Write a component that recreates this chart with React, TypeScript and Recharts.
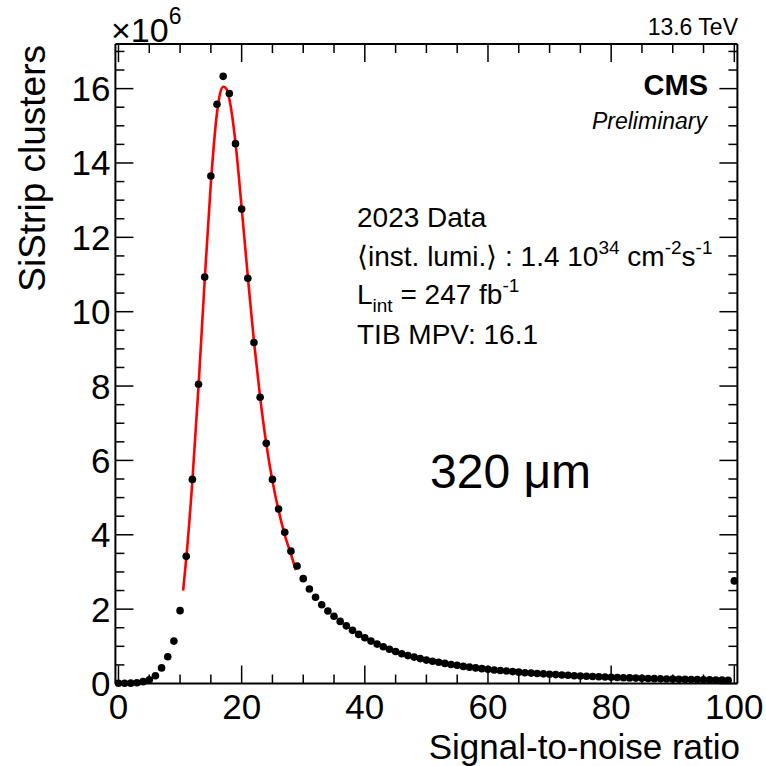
import React from 'react';
import { ComposedChart, XAxis, YAxis, Scatter, Line } from 'recharts';

// Histogram bins (signal-to-noise ratio) and cluster counts (units of 10^6)
const snrBins = [
  0, 1, 2, 3, 4, 5, 6, 7, 8, 9,
  10, 11, 12, 13, 14, 15, 16, 17, 18, 19,
  20, 21, 22, 23, 24, 25, 26, 27, 28, 29,
  30, 31, 32, 33, 34, 35, 36, 37, 38, 39,
  40, 41, 42, 43, 44, 45, 46, 47, 48, 49,
  50, 51, 52, 53, 54, 55, 56, 57, 58, 59,
  60, 61, 62, 63, 64, 65, 66, 67, 68, 69,
  70, 71, 72, 73, 74, 75, 76, 77, 78, 79,
  80, 81, 82, 83, 84, 85, 86, 87, 88, 89,
  90, 91, 92, 93, 94, 95, 96, 97, 98, 99,
  100,
];
const clusterCounts = [
  0.005, 0.005, 0.01, 0.02, 0.05, 0.1, 0.21, 0.42, 0.72, 1.14,
  1.96, 3.42, 5.49, 8.05, 10.93, 13.65, 15.58, 16.33, 15.87, 14.52,
  12.76, 10.9, 9.17, 7.7, 6.46, 5.49, 4.69, 4.07, 3.56, 3.16,
  2.82, 2.54, 2.32, 2.12, 1.95, 1.81, 1.67, 1.55, 1.43, 1.32,
  1.23, 1.14, 1.06, 0.99, 0.92, 0.86, 0.8, 0.75, 0.71, 0.67,
  0.63, 0.6, 0.57, 0.54, 0.51, 0.49, 0.46, 0.44, 0.42, 0.4,
  0.38, 0.365, 0.35, 0.335, 0.32, 0.305, 0.29, 0.28, 0.27, 0.26,
  0.25, 0.24, 0.23, 0.22, 0.21, 0.2, 0.195, 0.19, 0.18, 0.175,
  0.17, 0.16, 0.155, 0.15, 0.145, 0.14, 0.135, 0.13, 0.125, 0.12,
  0.118, 0.114, 0.11, 0.106, 0.103, 0.1, 0.097, 0.094, 0.091, 0.088,
  2.76,
];

// Fit curve
const fitX = [10.5, 11, 12, 13, 14, 15, 16, 16.5, 17, 17.5, 18, 19, 20, 21, 22, 23, 24, 25, 26, 27, 28, 28.8];
const fitY = [2.5, 3.35, 5.45, 8.0, 10.85, 13.45, 15.35, 15.87, 16.05, 16.0, 15.72, 14.55, 12.8, 10.95, 9.2, 7.7, 6.45, 5.45, 4.65, 4.0, 3.48, 3.05];

const xTickValues = [0, 5, 10, 15, 20, 25, 30, 35, 40, 45, 50, 55, 60, 65, 70, 75, 80, 85, 90, 95, 100];
const xLabelValues = [0, 20, 40, 60, 80, 100];
const yTickValues = [0, 0.5, 1, 1.5, 2, 2.5, 3, 3.5, 4, 4.5, 5, 5.5, 6, 6.5, 7, 7.5, 8, 8.5, 9, 9.5, 10, 10.5, 11, 11.5, 12, 12.5, 13, 13.5, 14, 14.5, 15, 15.5, 16, 16.5, 17];
const yLabelValues = [0, 2, 4, 6, 8, 10, 12, 14, 16];

const histData = snrBins.map((x, i) => ({ x, y: clusterCounts[i] }));
const fitData = fitX.map((x, i) => ({ x, y: fitY[i] }));

const FONT = '"Liberation Sans", Arial, Helvetica, sans-serif';
const MAJOR = 18;
const MINOR = 9;
const TW = 1.5;

const BottomTick = (p: any) => {
  const v = p.payload.value;
  const major = xLabelValues.includes(v);
  return (
    <g>
      <line x1={p.x} x2={p.x} y1={p.y} y2={p.y - (major ? MAJOR : MINOR)} stroke="#000" strokeWidth={TW} />
      {major && (
        <text x={p.x} y={p.y + 35} textAnchor="middle" fontSize={35} fontFamily={FONT} fill="#000">
          {v}
        </text>
      )}
    </g>
  );
};

const TopTick = (p: any) => {
  const v = p.payload.value;
  const major = xLabelValues.includes(v);
  return (
    <line x1={p.x} x2={p.x} y1={p.y} y2={p.y + (major ? MAJOR : MINOR)} stroke="#000" strokeWidth={TW} />
  );
};

const LeftTick = (p: any) => {
  const v = p.payload.value;
  const major = yLabelValues.includes(v);
  return (
    <g>
      <line x1={p.x} x2={p.x + (major ? MAJOR : MINOR)} y1={p.y} y2={p.y} stroke="#000" strokeWidth={TW} />
      {major && (
        <text x={p.x - 5} y={p.y + 12.5} textAnchor="end" fontSize={35} fontFamily={FONT} fill="#000">
          {v}
        </text>
      )}
    </g>
  );
};

const RightTick = (p: any) => {
  const v = p.payload.value;
  const major = yLabelValues.includes(v);
  return (
    <line x1={p.x} x2={p.x - (major ? MAJOR : MINOR)} y1={p.y} y2={p.y} stroke="#000" strokeWidth={TW} />
  );
};

const Dot = (p: any) => <circle cx={p.cx} cy={p.cy} r={3.8} fill="#000" />;

export default function App() {
  const W = 766;
  const H = 766;
  return (
    <div style={{ position: 'absolute', left: 0, top: 0, width: W, height: H, background: '#fff' }}>
      <ComposedChart
        width={W}
        height={H}
        margin={{ top: 43, right: 27.6, bottom: 81.5, left: 114.4 }}
      >
        <XAxis
          xAxisId="b"
          dataKey="x"
          type="number"
          domain={[-0.5, 100.5]}
          ticks={xTickValues}
          interval={0}
          height={1}
          tickSize={0}
          tickMargin={0}
          tickLine={false}
          axisLine={{ stroke: '#000', strokeWidth: 2 }}
          tick={(p: any) => <BottomTick {...p} />}
          orientation="bottom"
        />
        <XAxis
          xAxisId="t"
          dataKey="x"
          type="number"
          domain={[-0.5, 100.5]}
          ticks={xTickValues}
          interval={0}
          height={1}
          tickSize={0}
          tickMargin={0}
          tickLine={false}
          axisLine={{ stroke: '#000', strokeWidth: 2 }}
          tick={(p: any) => <TopTick {...p} />}
          orientation="top"
        />
        <YAxis
          yAxisId="l"
          dataKey="y"
          type="number"
          domain={[0, 17.2]}
          ticks={yTickValues}
          interval={0}
          width={1}
          tickSize={0}
          tickMargin={0}
          tickLine={false}
          axisLine={{ stroke: '#000', strokeWidth: 2 }}
          tick={(p: any) => <LeftTick {...p} />}
          orientation="left"
        />
        <YAxis
          yAxisId="r"
          dataKey="y"
          type="number"
          domain={[0, 17.2]}
          ticks={yTickValues}
          interval={0}
          width={1}
          tickSize={0}
          tickMargin={0}
          tickLine={false}
          axisLine={{ stroke: '#000', strokeWidth: 2 }}
          tick={(p: any) => <RightTick {...p} />}
          orientation="right"
        />
        <Line
          xAxisId="b"
          yAxisId="l"
          data={fitData}
          dataKey="y"
          type="monotone"
          stroke="#ff0000"
          strokeWidth={2.6}
          dot={false}
          activeDot={false}
          isAnimationActive={false}
        />
        <Scatter
          xAxisId="b"
          yAxisId="l"
          data={histData}
          dataKey="y"
          shape={(p: any) => <Dot {...p} />}
          isAnimationActive={false}
        />
        <Line
          xAxisId="t"
          yAxisId="r"
          data={fitData}
          dataKey="y"
          stroke="none"
          dot={false}
          activeDot={false}
          isAnimationActive={false}
        />
      </ComposedChart>
      <svg
        width={W}
        height={H}
        style={{ position: 'absolute', left: 0, top: 0, pointerEvents: 'none' }}
        fontFamily={FONT}
      >
        <text x={111} y={42} fontSize={34} fill="#000">
          ×10
          <tspan dy={-18} fontSize={23}>6</tspan>
        </text>
        <text x={738} y={35} fontSize={23} textAnchor="end" fill="#000">13.6 TeV</text>
        <text x={708} y={95} fontSize={29} fontWeight="bold" textAnchor="end" fill="#000">CMS</text>
        <text x={707} y={129} fontSize={23} fontStyle="italic" textAnchor="end" fill="#000">Preliminary</text>

        <text x={357} y={227} fontSize={28} fill="#000">2023 Data</text>
        <text x={357} y={266} fontSize={28} fill="#000">
          ⟨inst. lumi.⟩ : 1.4 10
          <tspan dy={-12} fontSize={19}>34</tspan>
          <tspan dy={12}> cm</tspan>
          <tspan dy={-12} fontSize={19}>-2</tspan>
          <tspan dy={12}>s</tspan>
          <tspan dy={-12} fontSize={19}>-1</tspan>
        </text>
        <text x={357} y={304} fontSize={28} fill="#000">
          L
          <tspan dy={8} fontSize={19}>int</tspan>
          <tspan dy={-8}> = 247 fb</tspan>
          <tspan dy={-12} fontSize={19}>-1</tspan>
        </text>
        <text x={357} y={344} fontSize={28} fill="#000">TIB MPV: 16.1</text>

        <text x={430} y={488} fontSize={48} fill="#000">320 μm</text>

        <text x={740} y={759} fontSize={35} textAnchor="end" fill="#000">Signal-to-noise ratio</text>
        <text
          x={45}
          y={45}
          fontSize={37}
          textAnchor="end"
          transform="rotate(-90, 45, 45)"
          fill="#000"
        >
          SiStrip clusters
        </text>
      </svg>
    </div>
  );
}
